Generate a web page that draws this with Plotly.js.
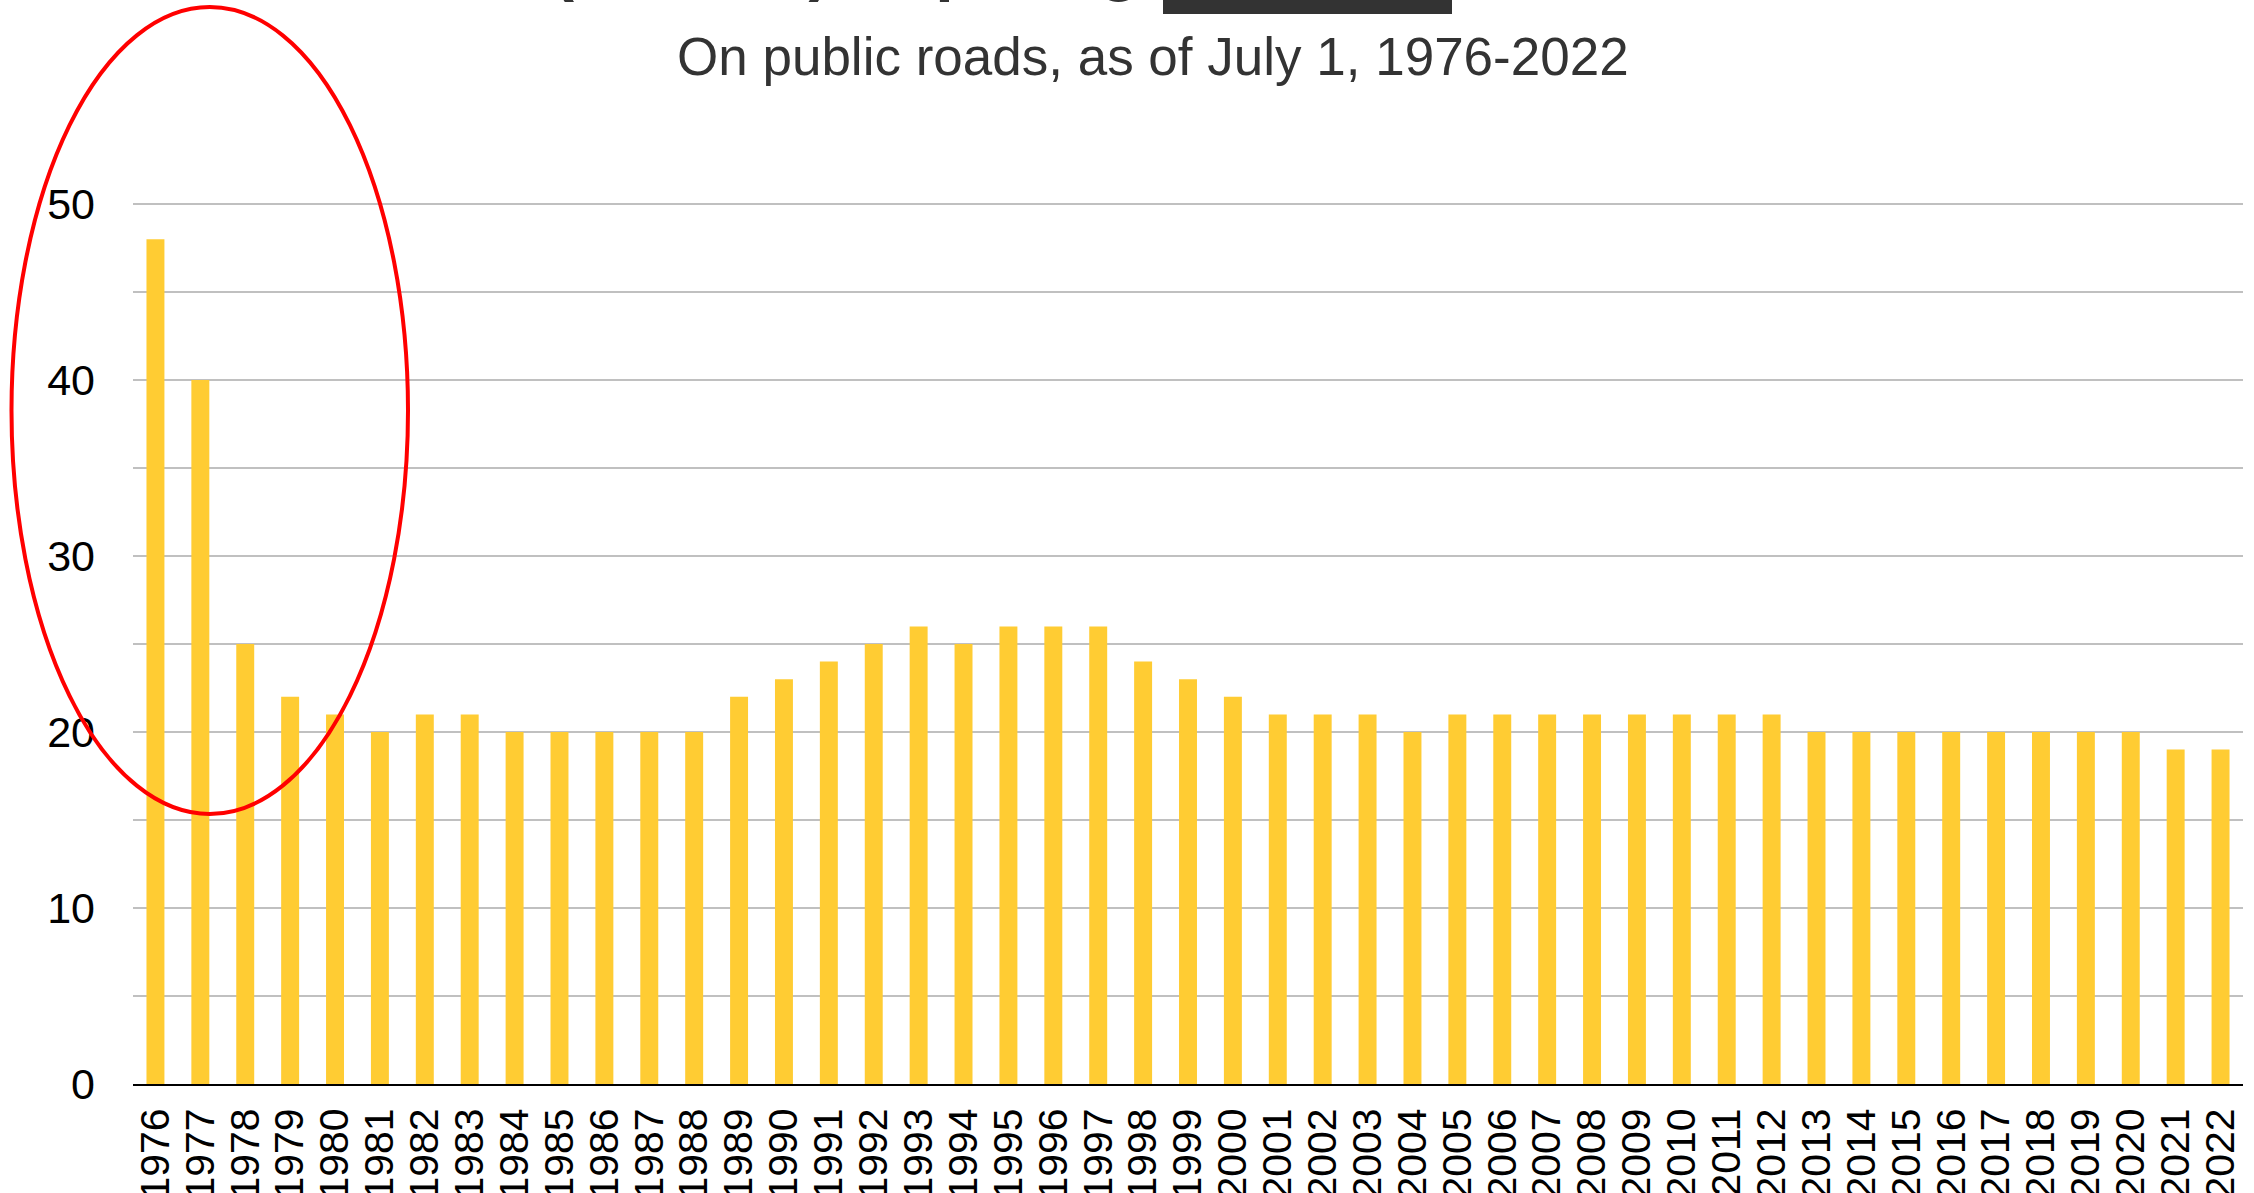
<!DOCTYPE html>
<html>
<head>
<meta charset="utf-8">
<script src="https://cdn.plot.ly/plotly-3.0.1.min.js"></script>
<style>
  html, body { margin: 0; padding: 0; background: #ffffff; }
  #chart { width: 2254px; height: 1193px; }
</style>
</head>
<body>
<div id="chart"></div>
<script>
const years = ["1976","1977","1978","1979","1980","1981","1982","1983","1984","1985","1986","1987","1988","1989","1990","1991","1992","1993","1994","1995","1996","1997","1998","1999","2000","2001","2002","2003","2004","2005","2006","2007","2008","2009","2010","2011","2012","2013","2014","2015","2016","2017","2018","2019","2020","2021","2022"];
const counts = [48,40,25,22,21,20,21,21,20,20,20,20,20,22,23,24,25,26,25,26,26,26,24,23,22,21,21,21,20,21,21,21,21,21,21,21,21,20,20,20,20,20,20,20,20,19,19];
const yTickVals = [0,5,10,15,20,25,30,35,40,45,50];
const yTickText = ["0","","10","","20","","30","","40","","50"];
const titleText = "States (and DC) requiring";
const subtitleText = "On public roads, as of July 1, 1976-2022";

const FONT = "Liberation Sans, Arial, sans-serif";

const trace = {
  type: "bar",
  x: years,
  y: counts,
  marker: { color: "#FFCC33", line: { width: 0 } },
  hoverinfo: "x+y"
};

const layout = {
  width: 2254,
  height: 1193,
  margin: { l: 133, r: 11, t: 116, b: 109 },
  paper_bgcolor: "#ffffff",
  plot_bgcolor: "#ffffff",
  showlegend: false,
  bargap: 0.6,
  font: { family: FONT, color: "#000000" },
  xaxis: {
    type: "category",
    tickmode: "array",
    tickvals: years,
    ticktext: years,
    tickangle: -90,
    tickfont: { family: FONT, size: 41, color: "#000000" },
    showgrid: false,
    showline: true,
    linecolor: "#000000",
    linewidth: 2,
    ticks: "",
    ticklabelstandoff: 6,
    zeroline: false
  },
  yaxis: {
    range: [0, 55],
    tickvals: yTickVals,
    ticktext: yTickText,
    tickfont: { family: FONT, size: 43, color: "#000000" },
    showgrid: true,
    gridcolor: "#c0c0c0",
    gridwidth: 1.5,
    zeroline: false,
    showline: false,
    ticks: "",
    ticklabelstandoff: 37
  },
  annotations: [
    {
      xref: "paper", yref: "paper",
      x: (1142 - 133) / 2110, y: (1084 - 4) / 968,
      xanchor: "right", yanchor: "bottom",
      text: "<b>" + titleText + "</b>",
      showarrow: false,
      font: { family: FONT, size: 67, color: "#333333" }
    },
    {
      xref: "paper", yref: "paper",
      x: (1153 - 133) / 2110, y: (1084 - 88) / 968,
      xanchor: "center", yanchor: "bottom",
      text: subtitleText,
      showarrow: false,
      font: { family: FONT, size: 53, color: "#333333" }
    }
  ],
  shapes: [
    {
      type: "rect",
      xref: "paper", yref: "paper",
      x0: (1163 - 133) / 2110, x1: (1452 - 133) / 2110,
      y0: (1084 - 14) / 968, y1: (1084 + 60) / 968,
      fillcolor: "#333333",
      line: { width: 0 }
    },
    {
      type: "circle",
      xref: "paper", yref: "paper",
      x0: (11.5 - 133) / 2110, x1: (408 - 133) / 2110,
      y0: (1084 - 814) / 968, y1: (1084 - 7) / 968,
      line: { color: "#ff0000", width: 4 },
      fillcolor: "rgba(0,0,0,0)"
    }
  ]
};

Plotly.newPlot("chart", [trace], layout, { displayModeBar: false, staticPlot: true });
</script>
</body>
</html>
